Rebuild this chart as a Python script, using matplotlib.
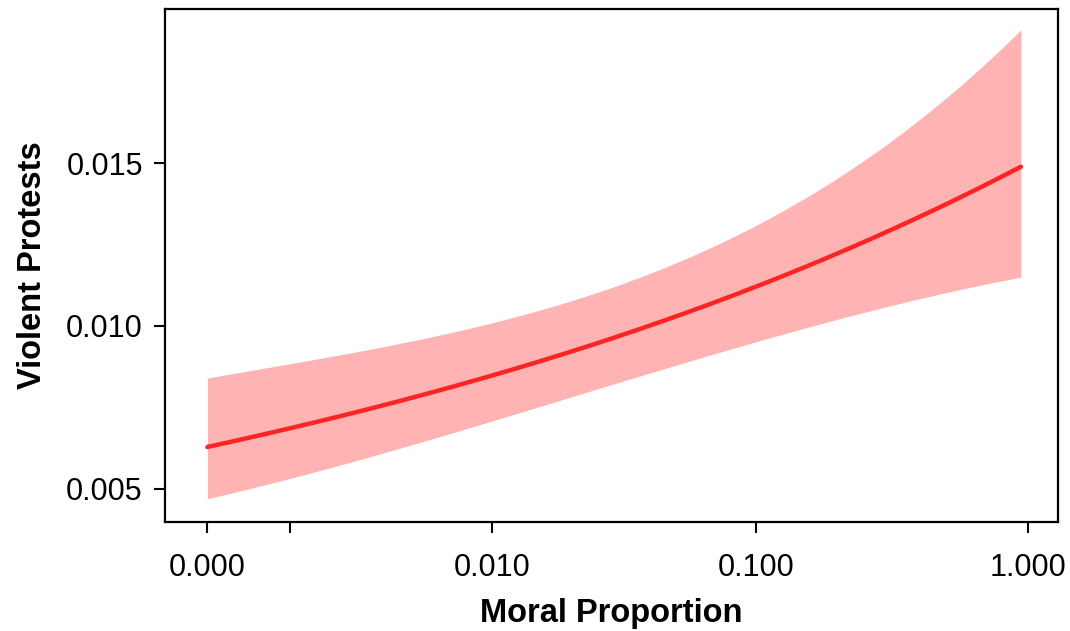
import numpy as np
import matplotlib
matplotlib.use('Agg')
import matplotlib.pyplot as plt

plt.rcParams['font.family'] = ['Liberation Sans', 'DejaVu Sans']

# Moral proportion (x) and predicted violent protest rate with 95% band
moral_prop = [0.0, 0.001, 0.003, 0.01, 0.02, 0.03, 0.05, 0.1, 0.2, 0.3, 0.5, 0.94]
fit = [0.00628, 0.00683, 0.00751, 0.00846, 0.00917, 0.00969, 0.01031,
       0.01114, 0.01222, 0.01288, 0.01382, 0.01486]
upper = [0.00842, 0.00880, 0.00929, 0.01011, 0.01082, 0.01127, 0.01185,
         0.01301, 0.01457, 0.01560, 0.01705, 0.01908]
lower = [0.00471, 0.00529, 0.00597, 0.00708, 0.00783, 0.00825, 0.00877,
         0.00954, 0.01017, 0.01055, 0.01105, 0.01151]

x_ticks = [0.0, 0.01, 0.1, 1.0]
x_tick_labels = ['0.000', '0.010', '0.100', '1.000']
x_minor = [0.001]
y_ticks = [0.005, 0.010, 0.015]
y_tick_labels = ['0.005', '0.010', '0.015']

# smooth the read-off points in log space (cubic fit) so the curves are not kinked
xs = np.array(moral_prop)
t = np.log10(xs + 0.001)
tt = np.linspace(t[0], t[-1], 300)
xx = 10 ** tt - 0.001
fit_s = np.polyval(np.polyfit(t, fit, 3), tt)
up_s = np.polyval(np.polyfit(t, upper, 3), tt)
lo_s = np.polyval(np.polyfit(t, lower, 3), tt)

fig = plt.figure(figsize=(10.7, 6.31), dpi=100)
ax = fig.add_axes([0.1542, 0.1727, 0.8346, 0.813])
ax.set_xscale('function', functions=(lambda v: np.log10(v + 0.001),
                                     lambda v: 10 ** v - 0.001))

ax.fill_between(xx, lo_s, up_s, color='#FFB3B3', linewidth=0)
ax.plot(xx, fit_s, color='#FF2424', linewidth=3.2, solid_capstyle='round')

ax.set_xlim(-0.0003, 1.285)
ax.set_ylim(0.00397, 0.01975)

ax.set_xticks(x_ticks)
ax.set_xticklabels(x_tick_labels)
ax.set_xticks(x_minor, minor=True)
ax.set_yticks(y_ticks)
ax.set_yticklabels(y_tick_labels)

ax.tick_params(axis='both', which='both', direction='out', length=8,
               width=1.5, labelsize=22)
ax.tick_params(axis='x', which='both', pad=14)
ax.tick_params(axis='y', pad=8)
for s in ax.spines.values():
    s.set_linewidth(1.6)

ax.set_xlabel('Moral Proportion', fontsize=23.5, fontweight='bold', labelpad=11)
ax.set_ylabel('Violent Protests', fontsize=23.5, fontweight='bold', labelpad=13)

fig.savefig('out.png', dpi=100)
plt.close(fig)
